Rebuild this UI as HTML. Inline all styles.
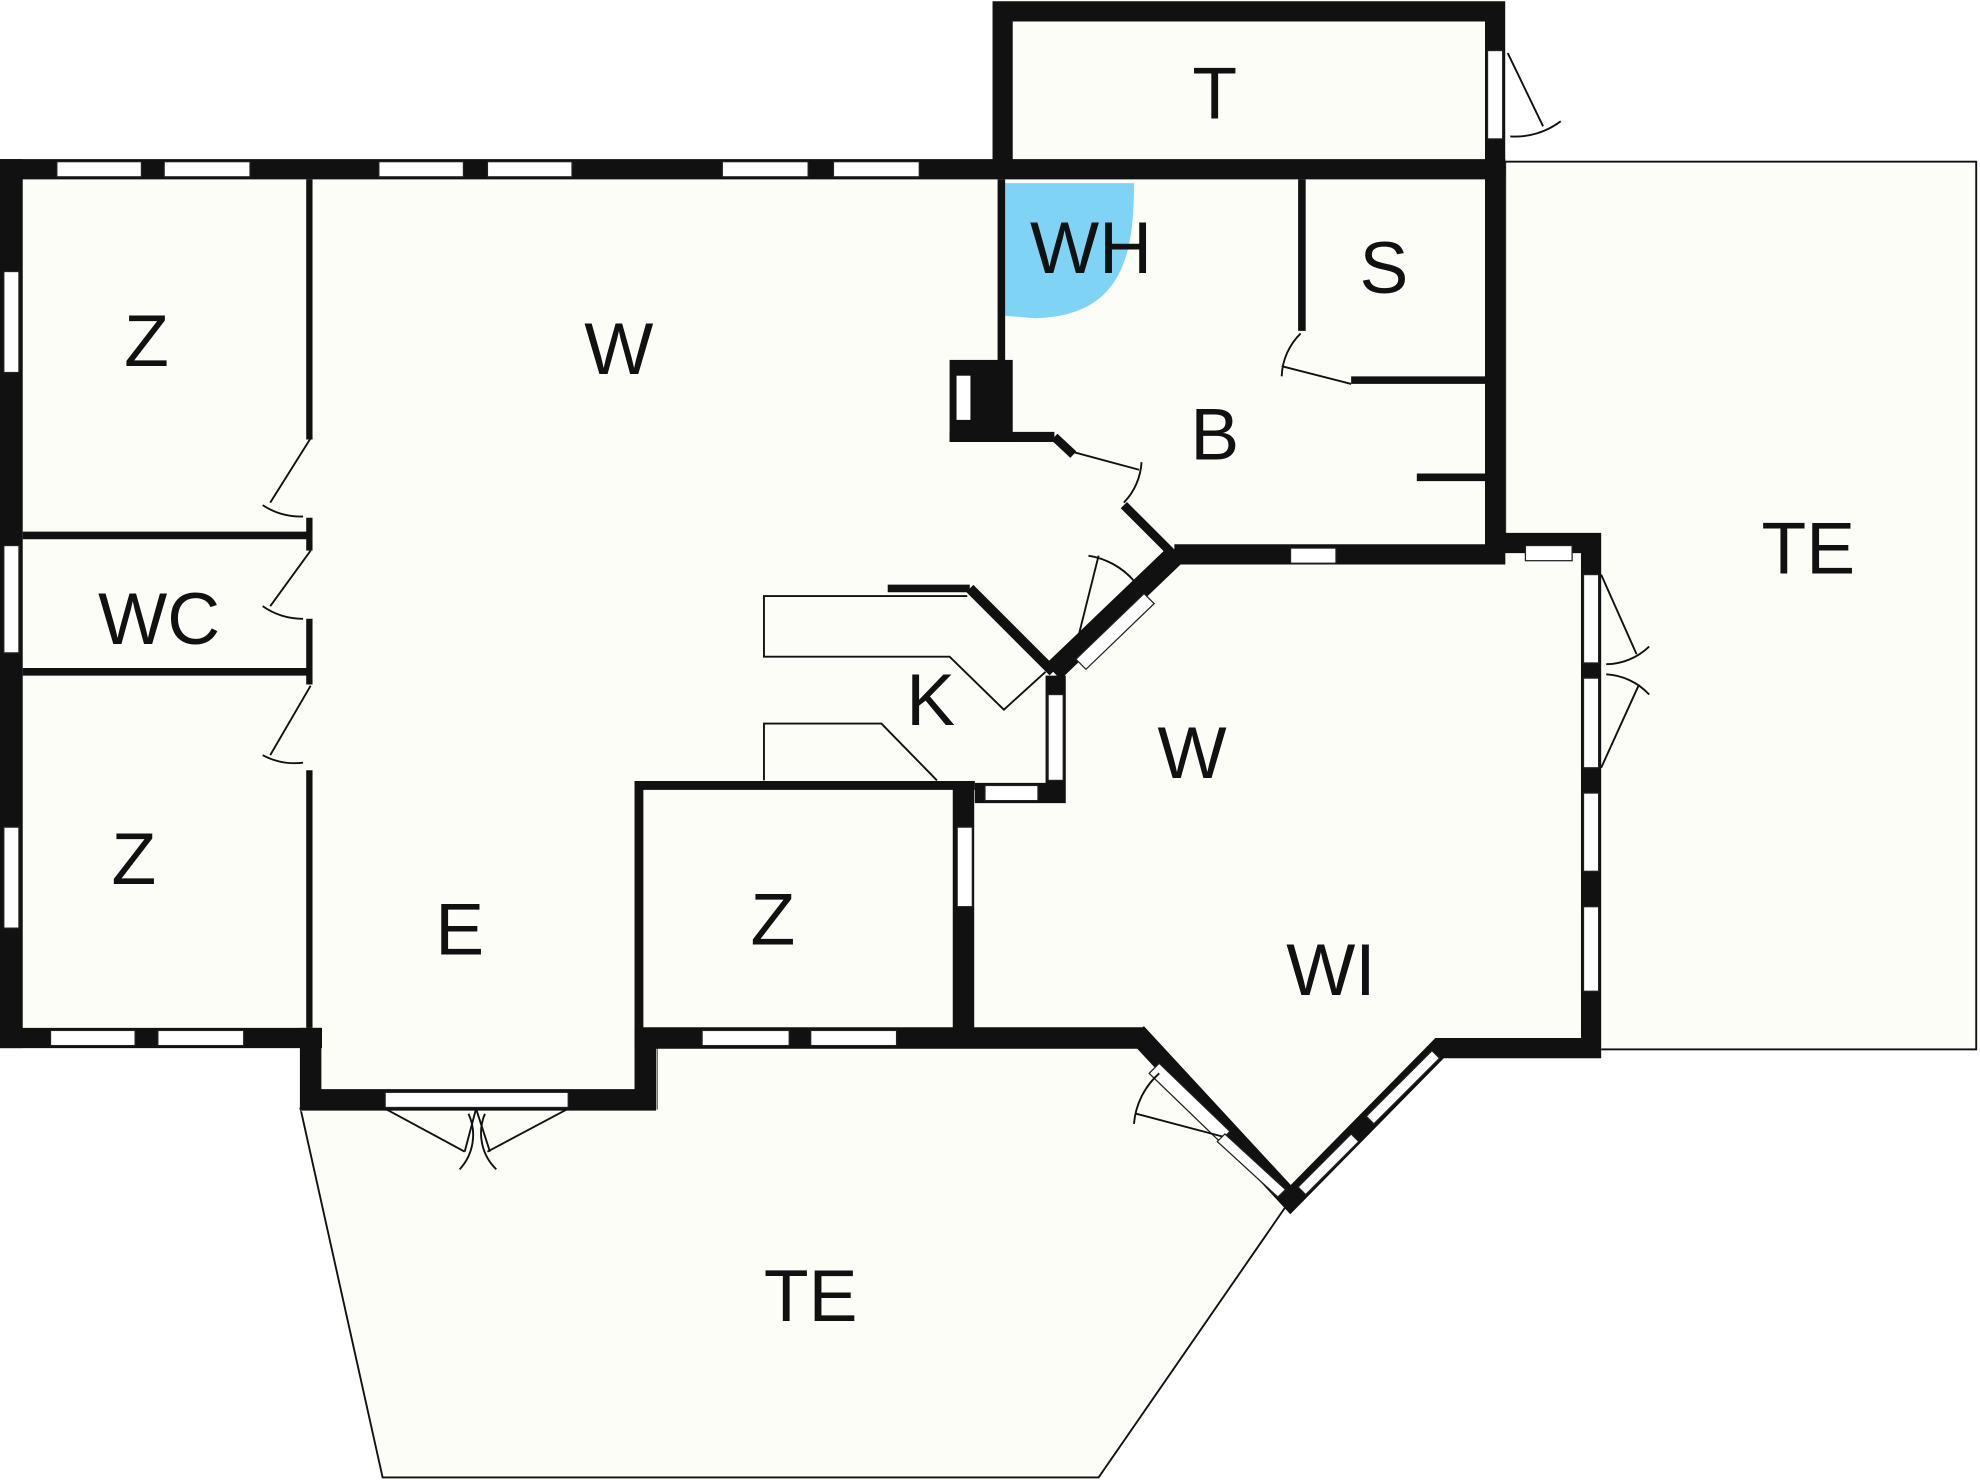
<!DOCTYPE html>
<html><head><meta charset="utf-8"><style>html,body{margin:0;padding:0;background:#fff}svg{display:block}</style></head><body>
<svg width="1980" height="1480" viewBox="0 0 1568 1172" xmlns="http://www.w3.org/2000/svg">
<g fill="#fdfdf8" stroke="#111" stroke-width="1.5">
<rect x="1192" y="128" width="373" height="703"/>
<polygon points="238,878 303,1170 870,1170 1022,950 905,822 520,822 520,878"/>
</g>
<g fill="#fdfdf8" stroke="none">
<rect x="0" y="126" width="1192" height="704"/>
<rect x="786" y="0" width="406" height="142"/>
<rect x="238" y="814" width="282" height="66"/>
<polygon points="930,430 1268,430 1268,838 1138,838 1022,950 905,822 772,822 772,620 845,620 845,540"/>
</g>
<path d="M796,145 L898,145 C898,200 890,250 820,252 L796,250 Z" fill="#7fd3f4"/>
<g stroke="#111" fill="none" stroke-linecap="butt">
<!-- T frame -->
<path d="M794,140 V9 H1184 V140" stroke-width="16"/>
<!-- top wall -->
<line x1="0" y1="134" x2="1192" y2="134" stroke-width="16"/>
<!-- left wall -->
<line x1="9" y1="126" x2="9" y2="830" stroke-width="18"/>
<!-- bottom left -->
<line x1="0" y1="822" x2="255" y2="822" stroke-width="16"/>
<path d="M246,814 V871 H511 V822 H905" stroke-width="17"/>
<line x1="763" y1="814" x2="763" y2="830" stroke-width="17"/>
<!-- bay -->
<path d="M900,818 L1022,950 L1140,830 H1260 V430 H1184" stroke-width="16"/>
<!-- B right -->
<line x1="1184" y1="126" x2="1184" y2="447" stroke-width="16"/>
<line x1="930" y1="439" x2="1192" y2="439" stroke-width="16"/>
<!-- B left -->
<line x1="793" y1="142" x2="793" y2="290" stroke-width="6"/>
<line x1="752" y1="346" x2="835" y2="346" stroke-width="8"/>
<line x1="835" y1="346" x2="850" y2="360" stroke-width="7"/>
<line x1="890" y1="400" x2="930" y2="440" stroke-width="7"/>
<!-- S -->
<line x1="1031" y1="142" x2="1031" y2="262" stroke-width="6"/>
<line x1="1070" y1="301" x2="1176" y2="301" stroke-width="6"/>
<line x1="1122" y1="378" x2="1176" y2="378" stroke-width="6"/>
<!-- left interior -->
<line x1="245" y1="142" x2="245" y2="348" stroke-width="5"/>
<line x1="245" y1="410" x2="245" y2="436" stroke-width="5"/>
<line x1="245" y1="490" x2="245" y2="542" stroke-width="5"/>
<line x1="245" y1="610" x2="245" y2="814" stroke-width="5"/>
<line x1="18" y1="424" x2="245" y2="424" stroke-width="6"/>
<line x1="18" y1="532" x2="245" y2="532" stroke-width="6"/>
<!-- Z middle -->
<path d="M506,830 V622 H772" stroke-width="7"/>
<line x1="763" y1="620" x2="763" y2="830" stroke-width="17"/>
<!-- K -->
<line x1="703" y1="466" x2="768" y2="466" stroke-width="6"/>
<line x1="768" y1="466" x2="834" y2="532" stroke-width="8"/>
<path d="M834,532 L930,440" stroke-width="17"/>
<path d="M836,535 V628 H772" stroke-width="16"/>
</g>
<!-- chimney -->
<rect x="752" y="285" width="50" height="65" fill="#111"/>
<rect x="757" y="297" width="12" height="36" fill="#fff" stroke="#111" stroke-width="1"/>
<!-- windows -->
<g fill="#fff" stroke="#222" stroke-width="1">
<rect x="45" y="128" width="67" height="12"/><rect x="130" y="128" width="68" height="12"/>
<rect x="300" y="128" width="67" height="12"/><rect x="386" y="128" width="67" height="12"/>
<rect x="572" y="128" width="68" height="12"/><rect x="660" y="128" width="68" height="12"/>
<rect x="3" y="215" width="12" height="80"/><rect x="3" y="432" width="12" height="85"/><rect x="3" y="655" width="12" height="80"/>
<rect x="40" y="816" width="67" height="12"/><rect x="125" y="816" width="68" height="12"/>
<rect x="556" y="816" width="69" height="12"/><rect x="642" y="816" width="68" height="12"/>
<rect x="305" y="865" width="145" height="12"/>
<rect x="1022" y="434" width="36" height="12"/><rect x="1208" y="432" width="37" height="12"/>
<rect x="1254" y="455" width="12" height="70"/><rect x="1254" y="537" width="12" height="71"/>
<rect x="1254" y="628" width="12" height="62"/><rect x="1254" y="718" width="12" height="67"/>
<rect x="758" y="655" width="12" height="63"/>
<rect x="830" y="550" width="12" height="68"/><rect x="780" y="622" width="42" height="12"/>
<rect x="1178" y="40" width="12" height="70"/>
<polygon points="852,522 906,470 914,478 860,530"/>
<polygon points="918,842 974,896 966,904 910,850"/>
<polygon points="970,898 1018,942 1012,948 964,904"/>
<polygon points="1028,940 1070,898 1076,904 1034,946"/>
<polygon points="1082,884 1134,832 1140,838 1088,890"/>
</g>
<!-- counters -->
<g fill="none" stroke="#111" stroke-width="1.5">
<path d="M766,472 H605 V520 H752 L795,562 L828,532"/>
<path d="M605,618 V573 H698 L742,618"/>
<!-- doors -->
<path d="M214,398 L246,347 M208,400 A55,55 0 0 0 240,409"/>
<path d="M214,480 L246,436 M208,480 A55,55 0 0 0 240,490"/>
<path d="M214,598 L246,543 M208,598 A55,55 0 0 0 240,604"/>
<path d="M850,358 L902,372 M904,366 A50,50 0 0 1 890,398"/>
<path d="M852,512 L870,440 M862,440 A60,60 0 0 1 898,460"/>
<path d="M1070,304 L1015,290 M1015,298 A50,50 0 0 1 1030,264"/>
<path d="M1194,42 L1222,100 M1196,108 A60,60 0 0 0 1236,96"/>
<path d="M1268,455 L1296,518 M1272,526 A50,50 0 0 0 1306,512"/>
<path d="M1268,608 L1298,542 M1272,534 A50,50 0 0 1 1306,550"/>
<path d="M305,878 L368,912 M377,878 L388,912 M377,878 L368,912"/>
<path d="M450,878 L386,912"/>
<path d="M371,882 A40,40 0 0 1 364,926 M384,882 A40,40 0 0 0 393,926"/>
<path d="M968,900 L900,882 M898,890 A60,60 0 0 1 918,850"/>
</g>
<g font-family="Liberation Sans, sans-serif" font-size="58" fill="#111" text-anchor="middle">
<text x="962" y="94">T</text>
<text x="864" y="216">WH</text>
<text x="1096" y="232">S</text>
<text x="962" y="364">B</text>
<text x="116" y="290">Z</text>
<text x="490" y="296">W</text>
<text x="126" y="510">WC</text>
<text x="737" y="574">K</text>
<text x="944" y="616">W</text>
<text x="106" y="700">Z</text>
<text x="364" y="756">E</text>
<text x="612" y="748">Z</text>
<text x="1054" y="788">WI</text>
<text x="1432" y="454">TE</text>
<text x="642" y="1046">TE</text>
</g>
</svg>
</body></html>
